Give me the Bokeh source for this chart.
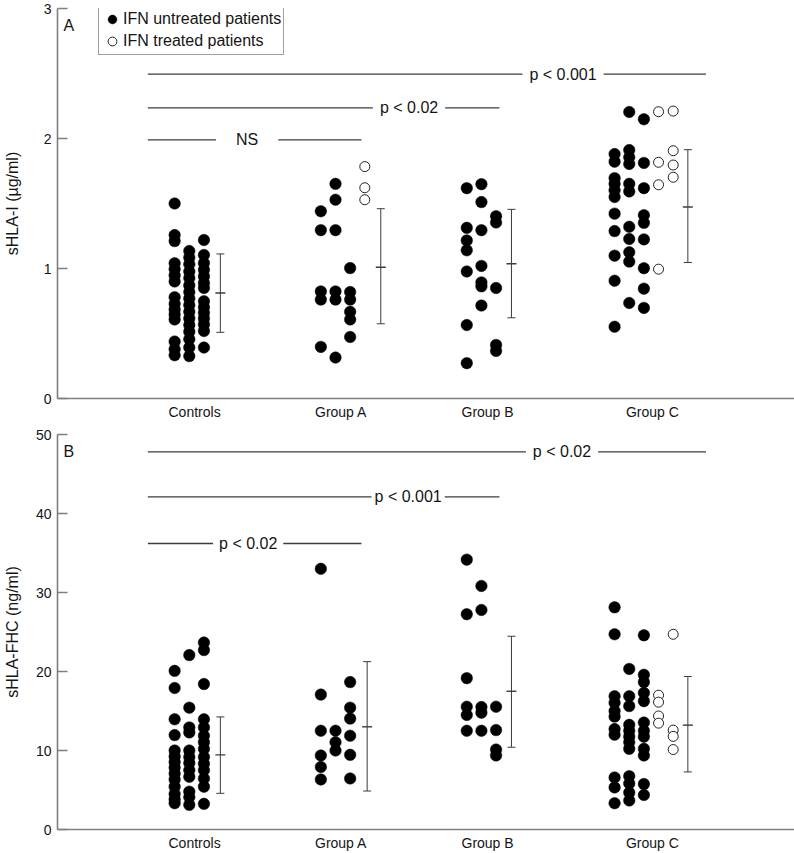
from bokeh.plotting import figure
from bokeh.models import (Range1d, FixedTicker, Label, Legend, LegendItem, Whisker,
                          TeeHead, ColumnDataSource)
from bokeh.layouts import column
from bokeh.embed import file_html
from bokeh.resources import INLINE

FONT = "Liberation Sans"
TXT = "#151515"
AXC = "#7f7f7f"
LNC = "#3c3c3c"

CATEGORIES = ["Controls", "Group A", "Group B", "Group C"]
CAT_X = [1.0, 2.0, 3.0, 4.125]
COL_START = [-0.136, -0.138, -0.142, -0.258]   # first dot column, relative to category
COL_STEP = 0.1
X_RANGE = (0.0644, 5.095)

# ---------------- Panel A : sHLA-I (ug/ml) ----------------
# IFN untreated (filled), one list per dot column
A_CONTROLS = [
    [1.50, 1.257, 1.211, 1.04, 0.995, 0.947, 0.90, 0.779, 0.728, 0.685, 0.646, 0.608, 0.438, 0.379, 0.333],
    [1.135, 1.084, 1.033, 0.977, 0.926, 0.870, 0.819, 0.769, 0.718, 0.667, 0.616, 0.565, 0.514, 0.456, 0.392, 0.326],
    [1.219, 1.104, 1.041, 0.990, 0.939, 0.888, 0.850, 0.748, 0.702, 0.659, 0.616, 0.570, 0.519, 0.392],
]
A_GROUP_A = [
    [1.44, 1.295, 0.824, 0.761, 0.397],
    [1.651, 1.529, 1.295, 0.824, 0.761, 0.315],
    [1.003, 0.819, 0.761, 0.667, 0.608, 0.473],
]
A_GROUP_B = [
    [1.618, 1.313, 1.216, 1.140, 0.977, 0.565, 0.272],
    [1.649, 1.511, 1.295, 1.020, 0.893, 0.863, 0.715],
    [1.402, 1.354, 0.850, 0.412, 0.366],
]
A_GROUP_C = [
    [1.880, 1.822, 1.695, 1.651, 1.601, 1.550, 1.422, 1.288, 1.099, 0.906, 0.552],
    [2.204, 1.911, 1.855, 1.804, 1.651, 1.593, 1.321, 1.227, 1.125, 1.053, 0.735],
    [2.148, 1.812, 1.618, 1.410, 1.351, 1.224, 1.002, 0.845, 0.697],
]
# IFN treated (open), columns start after the filled ones
TREATED_FIRST_COL = 3
A_GROUP_A_TREATED = [[1.784, 1.621, 1.529]]
A_GROUP_C_TREATED = [[2.206, 1.817, 1.644, 0.995], [2.211, 1.906, 1.796, 1.702]]
A_MEAN = [0.812, 1.010, 1.036, 1.473]
A_LOW = [0.509, 0.575, 0.621, 1.046]
A_HIGH = [1.112, 1.460, 1.455, 1.914]
A_ERR_DX = [0.176, 0.271, 0.163, 0.242]
A_TICKS = [0, 1, 2, 3]
A_SIG_TEXT = ["p < 0.001", "p < 0.02", "NS"]
A_SIG_Y = [2.495, 2.236, 1.99]
A_SIG_X1 = [4.491, 3.081, 2.139]
A_SIG_TX = [3.515, 2.464, 1.359]
A_SIG_PAD = [7, 7, 20]

# ---------------- Panel B : sHLA-FHC (ng/ml) ----------------
B_CONTROLS = [
    [20.08, 17.91, 13.95, 11.95, 10.0, 9.25, 8.54, 7.83, 7.08, 6.33, 5.42, 4.5, 3.83, 3.33],
    [22.08, 15.42, 12.92, 12.29, 10.0, 9.17, 8.41, 7.5, 6.67, 4.79, 4.08, 3.12],
    [23.67, 22.71, 18.41, 13.95, 12.92, 11.87, 11.04, 10.2, 9.17, 8.33, 7.5, 6.46, 5.42, 3.25],
]
B_GROUP_A = [
    [33.0, 17.08, 12.5, 9.37, 7.91, 6.33],
    [12.5, 11.04, 10.0],
    [18.66, 15.42, 14.04, 11.87, 9.45, 6.46],
]
B_GROUP_B = [
    [34.16, 27.25, 19.16, 15.54, 14.5, 12.5],
    [30.83, 27.79, 15.5, 14.79, 12.5],
    [15.54, 12.58, 10.12, 9.37],
]
B_GROUP_C = [
    [28.12, 24.71, 16.87, 16.04, 15.0, 14.29, 12.71, 12.0, 6.58, 5.33, 3.33],
    [20.33, 16.87, 15.62, 13.25, 12.5, 11.75, 11.04, 10.21, 6.75, 5.83, 4.67, 3.67],
    [24.58, 19.58, 18.66, 17.29, 16.25, 13.54, 12.5, 11.75, 10.21, 9.37, 5.75, 4.37],
]
B_GROUP_C_TREATED = [[17.0, 16.12, 14.37, 13.46], [24.71, 12.58, 11.79, 10.12]]
B_MEAN = [9.45, 13.0, 17.5, 13.21]
B_LOW = [4.58, 4.87, 10.41, 7.29]
B_HIGH = [14.25, 21.25, 24.46, 19.37]
B_ERR_DX = [0.176, 0.178, 0.163, 0.242]
B_TICKS = [0, 10, 20, 30, 40, 50]
B_SIG_TEXT = ["p < 0.02", "p < 0.001", "p < 0.02"]
B_SIG_Y = [47.8, 42.1, 36.2]
B_SIG_X1 = [4.491, 3.081, 2.139]
B_SIG_TX = [3.508, 2.458, 1.366]
B_SIG_PAD = [7, 3, 6]
SIG_X0 = 0.681

LEGEND_LABELS = ["IFN untreated patients", "IFN treated patients"]


def columns_to_xy(cols, gi, first_col=0):
    xs, ys = [], []
    for ci, col in enumerate(cols):
        for v in col:
            xs.append(CAT_X[gi] + COL_START[gi] + (first_col + ci) * COL_STEP)
            ys.append(v)
    return xs, ys


def make_panel(letter, letter_y, ylabel, y_end, ticks, untreated, treated, mean, low, high,
               err_dx, sig_text, sig_y, sig_x1, sig_tx, sig_pad, height, b_top, b_bottom,
               label_standoff, legend):
    p = figure(width=794, height=height, x_range=Range1d(*X_RANGE), y_range=Range1d(0, y_end),
               output_backend="svg", toolbar_location=None,
               min_border_left=52, min_border_right=0, min_border_top=b_top,
               min_border_bottom=b_bottom)
    p.outline_line_color = None
    p.grid.visible = False
    p.background_fill_color = "white"

    # axes
    p.yaxis.ticker = FixedTicker(ticks=ticks)
    p.yaxis.major_tick_in = 10
    p.yaxis.major_tick_out = 0
    p.yaxis.minor_tick_line_color = None
    p.yaxis.major_label_standoff = 6
    p.yaxis.axis_label = ylabel
    p.yaxis.axis_label_standoff = label_standoff
    p.yaxis.axis_label_text_font = FONT
    p.yaxis.axis_label_text_font_style = "normal"
    p.yaxis.axis_label_text_font_size = "16px"
    p.yaxis.axis_label_text_color = TXT
    p.xaxis.ticker = FixedTicker(ticks=CAT_X)
    p.xaxis.major_label_overrides = {x: c for x, c in zip(CAT_X, CATEGORIES)}
    p.xaxis.major_tick_in = 0
    p.xaxis.major_tick_out = 0
    p.xaxis.minor_tick_line_color = None
    p.xaxis.major_label_standoff = 5
    for ax in (p.xaxis, p.yaxis):
        ax.axis_line_color = AXC
        ax.axis_line_width = 1.6
        ax.major_tick_line_color = AXC
        ax.major_tick_line_width = 1.4
        ax.major_label_text_font = FONT
        ax.major_label_text_font_size = "14px"
        ax.major_label_text_color = TXT

    # significance brackets
    p.segment(x0=[SIG_X0] * len(sig_y), y0=sig_y, x1=sig_x1, y1=sig_y,
              line_color=LNC, line_width=1.3)
    for t, y, tx, pad in zip(sig_text, sig_y, sig_tx, sig_pad):
        p.add_layout(Label(x=tx, y=y, text=t, text_align="center", text_baseline="middle",
                           text_font=FONT, text_font_size="16px", text_color=TXT,
                           background_fill_color="white", padding=pad))

    # mean +/- SD
    base = [c + d for c, d in zip(CAT_X, err_dx)]
    src = ColumnDataSource(dict(base=base, lower=low, upper=high, mean=mean))
    p.add_layout(Whisker(source=src, base="base", lower="lower", upper="upper",
                         dimension="height", line_color=LNC, line_width=1,
                         upper_head=TeeHead(size=8, line_color=LNC, line_width=1),
                         lower_head=TeeHead(size=8, line_color=LNC, line_width=1)))
    p.scatter(x="base", y="mean", source=src, marker="dash", size=10,
              line_color=LNC, line_width=1.4)

    # dots
    fx, fy = [], []
    for gi, cols in enumerate(untreated):
        xs, ys = columns_to_xy(cols, gi)
        fx += xs
        fy += ys
    ox, oy = [], []
    for gi, cols in treated.items():
        xs, ys = columns_to_xy(cols, gi, TREATED_FIRST_COL)
        ox += xs
        oy += ys
    r_fill = p.scatter(fx, fy, size=11.5, fill_color="black", line_color="black", line_width=0.5)
    r_open = p.scatter(ox, oy, size=10, fill_color="white", line_color="#222222", line_width=1)

    p.add_layout(Label(x=0.105, y=letter_y, text=letter, text_align="left",
                       text_baseline="middle", text_font=FONT, text_font_size="16px",
                       text_color=TXT))

    if legend:
        fh = height - b_top - b_bottom
        pad, gh, sp = 2, 22, -3
        leg_h = 2 * pad + 2 * gh + sp
        leg = Legend(items=[LegendItem(label=LEGEND_LABELS[0], renderers=[r_fill]),
                            LegendItem(label=LEGEND_LABELS[1], renderers=[r_open])],
                     location=(41, fh - leg_h - 2))
        leg.label_text_font = FONT
        leg.label_text_font_size = "16px"
        leg.label_text_color = TXT
        leg.glyph_width = gh
        leg.glyph_height = gh
        leg.label_height = gh
        leg.spacing = sp
        leg.padding = pad
        leg.label_standoff = 0
        leg.margin = 0
        leg.border_line_color = "#444444"
        leg.border_line_width = 1
        leg.background_fill_color = "white"
        leg.background_fill_alpha = 1
        p.add_layout(leg)
    return p


pA = make_panel("A", 2.866, "sHLA-I (\u00b5g/ml)", 3, A_TICKS,
                [A_CONTROLS, A_GROUP_A, A_GROUP_B, A_GROUP_C],
                {1: A_GROUP_A_TREATED, 3: A_GROUP_C_TREATED},
                A_MEAN, A_LOW, A_HIGH, A_ERR_DX,
                A_SIG_TEXT, A_SIG_Y, A_SIG_X1, A_SIG_TX, A_SIG_PAD,
                height=427, b_top=8, b_bottom=29, label_standoff=20, legend=True)
pB = make_panel("B", 47.9, "sHLA-FHC (ng/ml)", 50, B_TICKS,
                [B_CONTROLS, B_GROUP_A, B_GROUP_B, B_GROUP_C],
                {3: B_GROUP_C_TREATED},
                B_MEAN, B_LOW, B_HIGH, B_ERR_DX,
                B_SIG_TEXT, B_SIG_Y, B_SIG_X1, B_SIG_TX, B_SIG_PAD,
                height=426, b_top=7, b_bottom=21, label_standoff=12, legend=False)

layout = column(pA, pB, spacing=0)
open("out.html", "w").write(file_html(layout, INLINE))
